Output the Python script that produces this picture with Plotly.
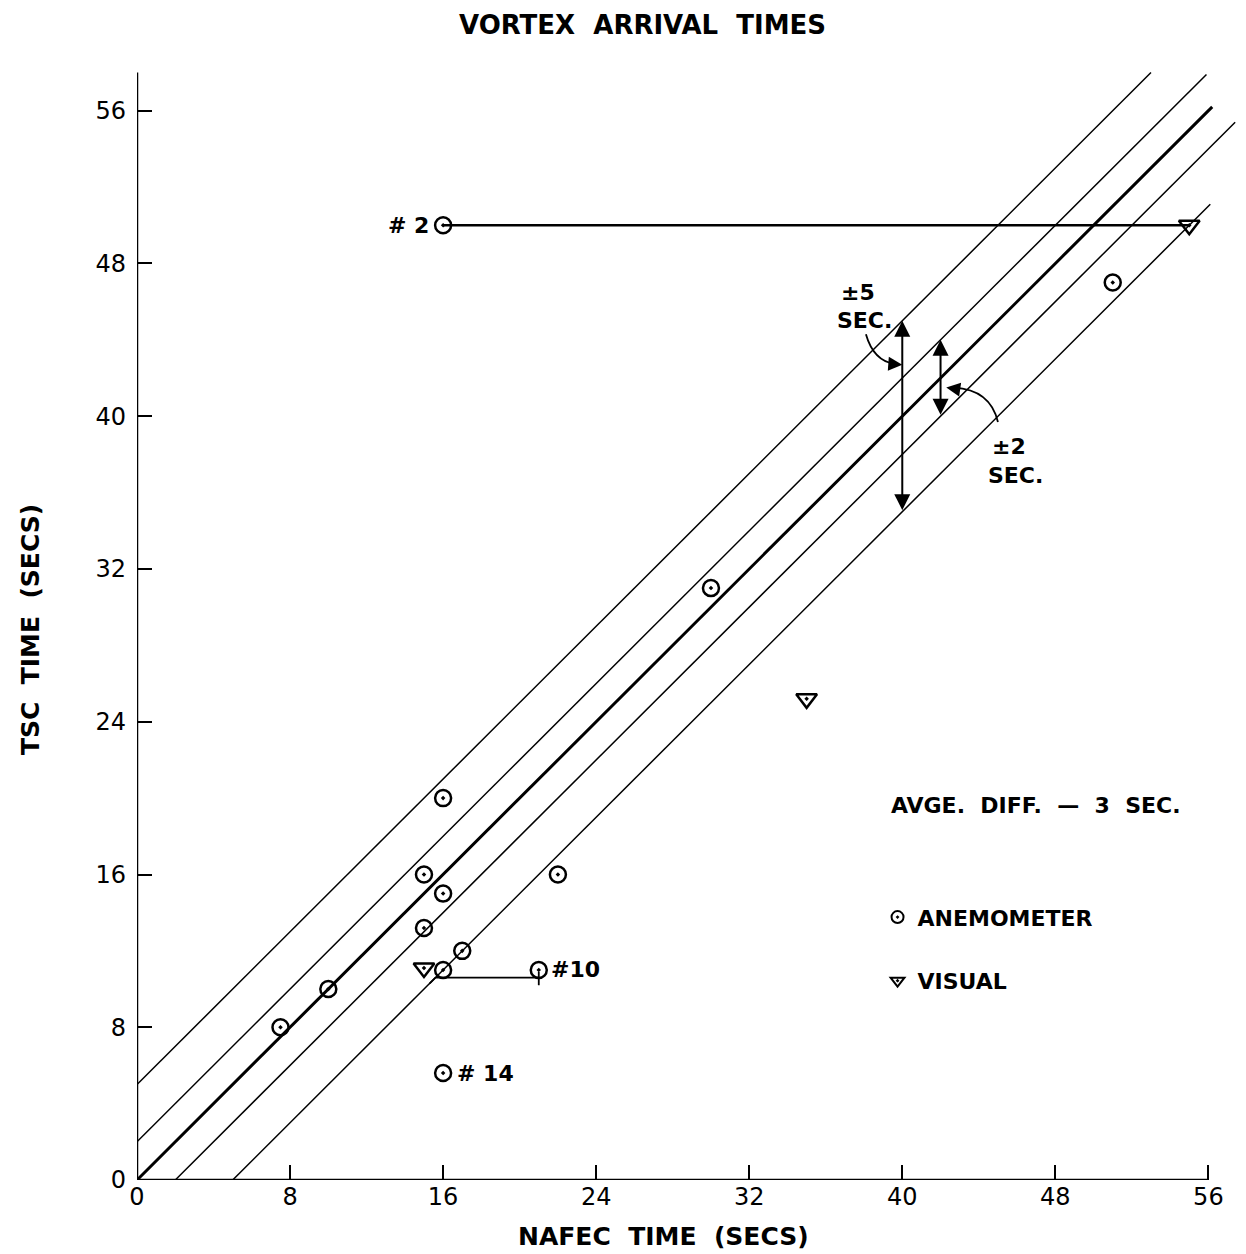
import plotly.graph_objects as go

# ---- data ----
anemo_x = [16, 51, 30, 16, 15, 16, 22, 15, 17, 16, 21, 16, 10, 7.5]
anemo_y = [50, 47, 31, 20, 16, 15, 16, 13.2, 12, 11, 11, 5.6, 10, 8]
visual_x = [55, 35, 15]
visual_y = [50, 25.2, 11.1]

band_offsets = [5, 2, 0, -2, -5]
band_end_x = [53, 55.9, 56.2, 57.4, 56.1]
band_widths = [1.5, 1.5, 3, 1.5, 1.5]

tick_vals = [0, 8, 16, 24, 32, 40, 48, 56]
tick_text = ["0", "8", "16", "24", "32", "40", "48", "56"]

link2_x = [16, 55]
link2_y = [50, 50]
link10_x = [15.3, 15.6, 21]
link10_y = [10.3, 10.6, 10.6]
tick10_x = [21, 21]
tick10_y = [10.9, 10.2]

FONT = "DejaVu Sans"
fig = go.Figure()

for off, xe, w in zip(band_offsets, band_end_x, band_widths):
    x0 = max(0, -off)
    fig.add_trace(go.Scatter(x=[x0, xe], y=[x0 + off, xe + off], mode="lines",
                             line=dict(color="black", width=w), showlegend=False,
                             hoverinfo="skip"))

fig.add_trace(go.Scatter(x=link2_x, y=link2_y, mode="lines",
                         line=dict(color="black", width=2.5), showlegend=False))
fig.add_trace(go.Scatter(x=link10_x, y=link10_y, mode="lines",
                         line=dict(color="black", width=1.8), showlegend=False))
fig.add_trace(go.Scatter(x=tick10_x, y=tick10_y, mode="lines",
                         line=dict(color="black", width=1.8), showlegend=False))

fig.add_trace(go.Scatter(x=anemo_x, y=anemo_y, mode="markers", name="ANEMOMETER",
                         legendgroup="a",
                         marker=dict(symbol="circle-open-dot", size=16, color="black",
                                     line=dict(width=2.5, color="black")),
                         cliponaxis=False))
fig.add_trace(go.Scatter(x=visual_x, y=visual_y, mode="markers", name="VISUAL",
                         legendgroup="v",
                         marker=dict(symbol="triangle-down-open-dot", size=18, color="black",
                                     line=dict(width=2.5, color="black")),
                         cliponaxis=False))

# axis lines
fig.add_shape(type="line", x0=0, y0=0, x1=56, y1=0, xref="x", yref="y",
              line=dict(color="black", width=2.5))
fig.add_shape(type="line", x0=0, y0=0, x1=0, y1=58, xref="x", yref="y",
              line=dict(color="black", width=2.5))

# leader curves
fig.add_shape(type="path", path="M 38.1,44.3 Q 38.5,42.9 39.6,42.75", xref="x", yref="y",
              line=dict(color="black", width=1.8))
fig.add_shape(type="path", path="M 45.0,39.7 Q 44.6,41.4 42.7,41.5", xref="x", yref="y",
              line=dict(color="black", width=1.8))

ann = []
# double arrows
for xa, y0, y1 in [(40, 35, 45), (42, 40, 44)]:
    ann.append(dict(x=xa, y=y1, ax=xa, ay=y0, xref="x", yref="y", axref="x", ayref="y",
                    text="", showarrow=True, arrowhead=2, arrowsize=1.6, arrowwidth=2,
                    arrowside="end+start", arrowcolor="black"))
# leader arrowheads
ann.append(dict(x=40.0, y=42.7, ax=-14, ay=-1, xref="x", yref="y", text="", showarrow=True,
                arrowhead=2, arrowsize=1.4, arrowwidth=2, arrowcolor="black"))
ann.append(dict(x=42.3, y=41.5, ax=14, ay=2, xref="x", yref="y", text="", showarrow=True,
                arrowhead=2, arrowsize=1.4, arrowwidth=2, arrowcolor="black"))

def txt(x, y, s, size=22, xanchor="center", xshift=0, yshift=0, xref="x", yref="y", angle=0):
    ann.append(dict(x=x, y=y, text=s, showarrow=False, xref=xref, yref=yref,
                    xanchor=xanchor, yanchor="middle", xshift=xshift, yshift=yshift,
                    textangle=angle,
                    font=dict(family=FONT, size=size, color="black", weight="bold")))

txt(37.7, 46.5, "±5")
txt(38.0, 45.0, "SEC.")
txt(45.6, 38.4, "±2")
txt(45.9, 36.9, "SEC.")
txt(47.0, 19.6, "AVGE.  DIFF.  —  3  SEC.")
txt(16, 50, "# 2", xanchor="right", xshift=-12)
txt(21, 11, "#10", xanchor="left", xshift=10)
txt(16, 5.6, "# 14", xanchor="left", xshift=12)

txt(26.4, 1, "VORTEX  ARRIVAL  TIMES", size=26, yref="paper", yshift=38)
txt(27.5, 0, "NAFEC  TIME  (SECS)", size=25, yref="paper", yshift=-56)
txt(0, 28.8, "TSC  TIME  (SECS)", size=25, xref="paper", xshift=-107, angle=-90)

fig.update_layout(
    width=1246, height=1254,
    margin=dict(l=137, r=7, t=63, b=74),
    paper_bgcolor="white", plot_bgcolor="white",
    annotations=ann,
    showlegend=True,
    legend=dict(x=0.672, y=0.254, xanchor="left", yanchor="top",
                font=dict(family=FONT, size=22, color="black", weight="bold"),
                bgcolor="rgba(0,0,0,0)", tracegroupgap=32, itemsizing="constant"),
    xaxis=dict(range=[0, 57.6], showgrid=False, zeroline=False, showline=False,
               ticks="inside", ticklen=15, tickwidth=2, tickcolor="black",
               tickvals=tick_vals, ticktext=tick_text,
               tickfont=dict(family=FONT, size=24, color="black")),
    yaxis=dict(range=[0, 58.5], showgrid=False, zeroline=False, showline=False,
               ticks="inside", ticklen=15, tickwidth=2, tickcolor="black",
               tickvals=tick_vals, ticktext=tick_text, ticklabelstandoff=10,
               tickfont=dict(family=FONT, size=24, color="black")),
)

fig.write_html("out.html")
